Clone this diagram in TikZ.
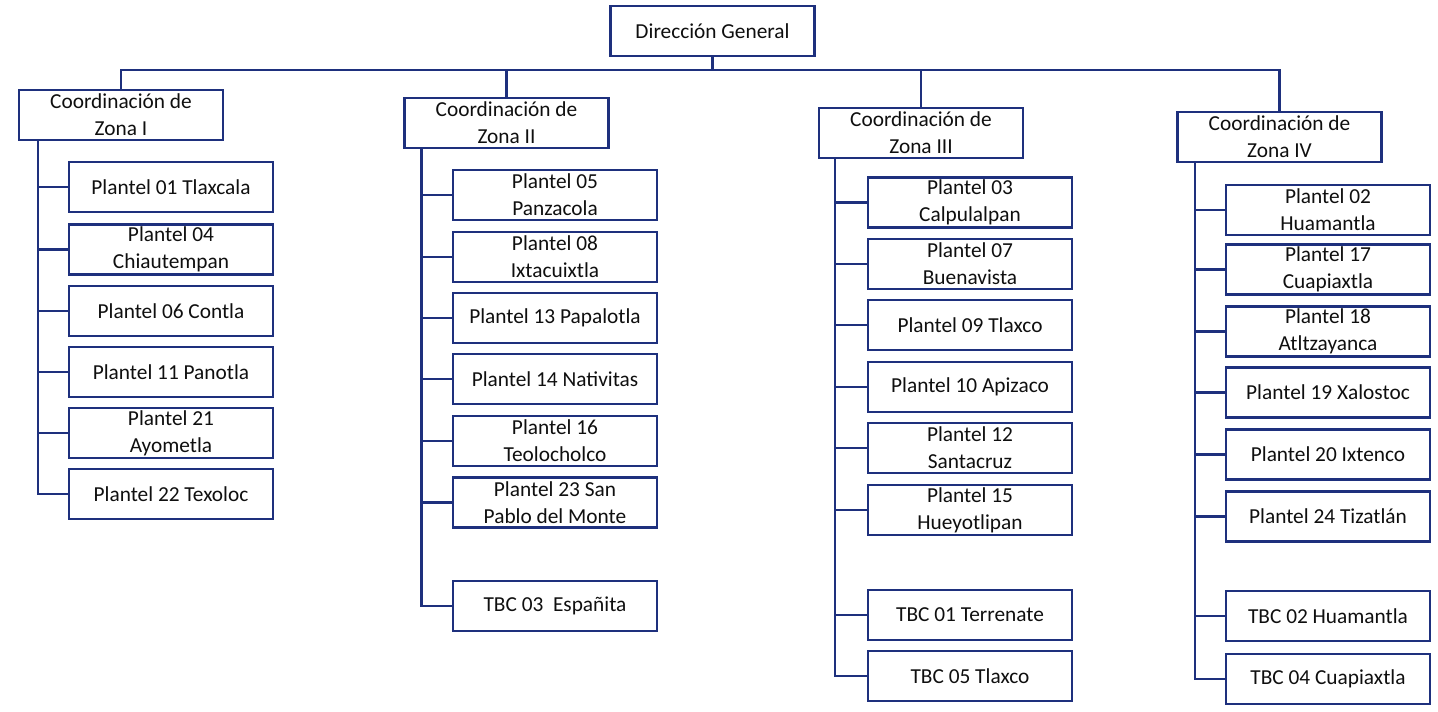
\documentclass[tikz,border=0pt]{standalone}
\usepackage{fontspec}
\setmainfont{Carlito}
\definecolor{lineblue}{RGB}{30,48,125}
\definecolor{inktext}{RGB}{15,15,15}
\begin{document}
\begin{tikzpicture}[x=0.75pt,y=-0.75pt,
  box/.style={draw=lineblue, line width=1.6pt, fill=white, minimum width=153pt, minimum height=37.5pt,
    align=center, inner sep=1pt, text=inktext, font=\fontsize{16}{20.5}\selectfont},
  conn/.style={draw=lineblue, line width=1.6pt}]
\useasboundingbox (0,0) rectangle (1438,712);
\coordinate (bus) at (0,70);
% top
\node[box] (dg) at (712.5,31) {Dirección General};
% coordinations
\node[box] (z1) at (121,115) {Coordinación de\\Zona I};
\node[box] (z2) at (506.5,123) {Coordinación de\\Zona II};
\node[box] (z3) at (921,133) {Coordinación de\\Zona III};
\node[box] (z4) at (1279.5,137) {Coordinación de\\Zona IV};
% zona I
\node[box] (a1) at (171,187) {Plantel 01 Tlaxcala};
\node[box] (a2) at (171,249.5) {Plantel 04\\Chiautempan};
\node[box] (a3) at (171,311) {Plantel 06 Contla};
\node[box] (a4) at (171,372) {Plantel 11 Panotla};
\node[box] (a5) at (171,433) {Plantel 21\\Ayometla};
\node[box] (a6) at (171,494) {Plantel 22 Texoloc};
% zona II
\node[box] (b1) at (555,195) {Plantel 05\\Panzacola};
\node[box] (b2) at (555,257) {Plantel 08\\Ixtacuixtla};
\node[box] (b3) at (555,318) {Plantel 13 Papalotla};
\node[box] (b4) at (555,379) {Plantel 14 Nativitas};
\node[box] (b5) at (555,441) {Plantel 16\\Teolocholco};
\node[box] (b6) at (555,502.5) {Plantel 23 San\\Pablo del Monte};
\node[box] (b7) at (555,606) {TBC 03\ \ Españita};
% zona III
\node[box] (c1) at (970,202.5) {Plantel 03\\Calpulalpan};
\node[box] (c2) at (970,264) {Plantel 07\\Buenavista};
\node[box] (c3) at (970,325) {Plantel 09 Tlaxco};
\node[box] (c4) at (970,387) {Plantel 10 Apizaco};
\node[box] (c5) at (970,448) {Plantel 12\\Santacruz};
\node[box] (c6) at (970,510) {Plantel 15\\Hueyotlipan};
\node[box] (c7) at (970,615) {TBC 01 Terrenate};
\node[box] (c8) at (970,676) {TBC 05 Tlaxco};
% zona IV
\node[box] (d1) at (1328,210) {Plantel 02\\Huamantla};
\node[box] (d2) at (1328,269.5) {Plantel 17\\Cuapiaxtla};
\node[box] (d3) at (1328,331.5) {Plantel 18\\Atltzayanca};
\node[box] (d4) at (1328,392.5) {Plantel 19 Xalostoc};
\node[box] (d5) at (1328,454.5) {Plantel 20 Ixtenco};
\node[box] (d6) at (1328,516.5) {Plantel 24 Tizatlán};
\node[box] (d7) at (1328,616) {TBC 02 Huamantla};
\node[box] (d8) at (1328,679) {TBC 04 Cuapiaxtla};
% bus
\draw[conn] (dg.south) -- (dg.south |- bus);
\draw[conn] (z1.north) -- (z1.north |- bus) -- (z4.north |- bus) -- (z4.north);
\draw[conn] (z2.north) -- (z2.north |- bus);
\draw[conn] (z3.north) -- (z3.north |- bus);
% spines
\coordinate (v1) at ([xshift=15pt]z1.south west);
\coordinate (v2) at ([xshift=13.5pt]z2.south west);
\coordinate (v3) at ([xshift=13pt]z3.south west);
\coordinate (v4) at ([xshift=14pt]z4.south west);
\foreach \n in {a1,a2,a3,a4,a5,a6} \draw[conn] (v1) |- (\n.west);
\foreach \n in {b1,b2,b3,b4,b5,b6,b7} \draw[conn] (v2) |- (\n.west);
\foreach \n in {c1,c2,c3,c4,c5,c6,c7,c8} \draw[conn] (v3) |- (\n.west);
\foreach \n in {d1,d2,d3,d4,d5,d6,d7,d8} \draw[conn] (v4) |- (\n.west);
\end{tikzpicture}
\end{document}
